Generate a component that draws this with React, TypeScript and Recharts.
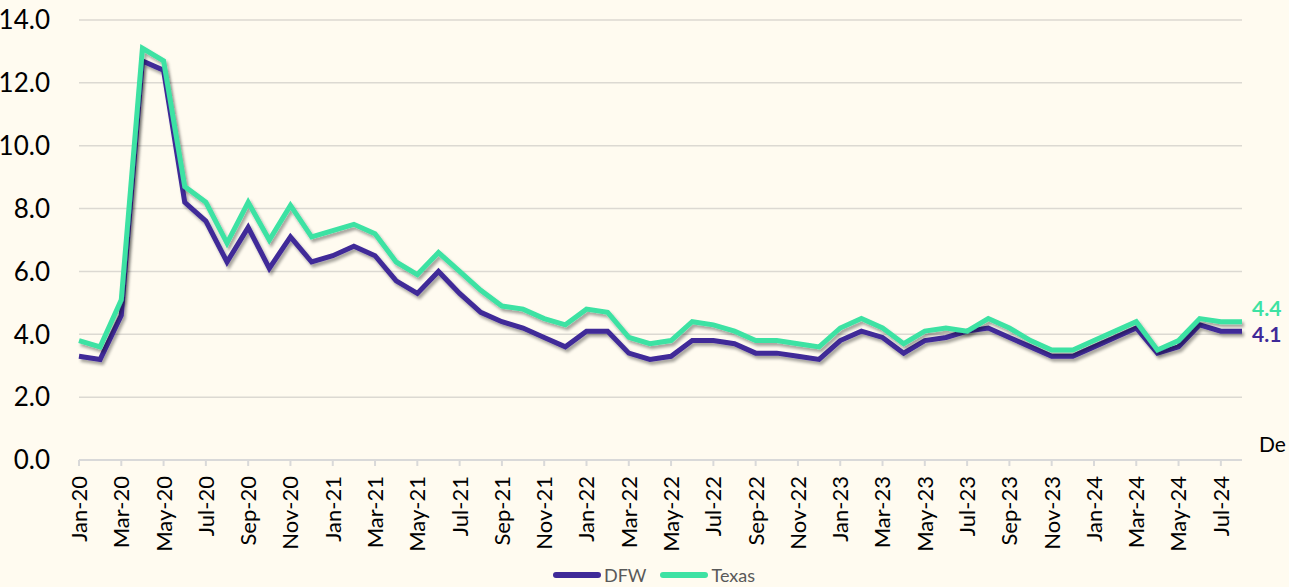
import React from "react";
import { LineChart, Line, XAxis, YAxis, CartesianGrid, Legend, LabelList } from "recharts";

const months = [
  "Jan-20", "Feb-20", "Mar-20", "Apr-20", "May-20", "Jun-20", "Jul-20", "Aug-20", "Sep-20", "Oct-20", "Nov-20", "Dec-20",
  "Jan-21", "Feb-21", "Mar-21", "Apr-21", "May-21", "Jun-21", "Jul-21", "Aug-21", "Sep-21", "Oct-21", "Nov-21", "Dec-21",
  "Jan-22", "Feb-22", "Mar-22", "Apr-22", "May-22", "Jun-22", "Jul-22", "Aug-22", "Sep-22", "Oct-22", "Nov-22", "Dec-22",
  "Jan-23", "Feb-23", "Mar-23", "Apr-23", "May-23", "Jun-23", "Jul-23", "Aug-23", "Sep-23", "Oct-23", "Nov-23", "Dec-23",
  "Jan-24", "Feb-24", "Mar-24", "Apr-24", "May-24", "Jun-24", "Jul-24", "Aug-24",
];

const dfw = [
  3.3, 3.2, 4.6, 12.7, 12.4, 8.2, 7.6, 6.3, 7.4, 6.1, 7.1, 6.3,
  6.5, 6.8, 6.5, 5.7, 5.3, 6.0, 5.3, 4.7, 4.4, 4.2, 3.9, 3.6,
  4.1, 4.1, 3.4, 3.2, 3.3, 3.8, 3.8, 3.7, 3.4, 3.4, 3.3, 3.2,
  3.8, 4.1, 3.9, 3.4, 3.8, 3.9, 4.1, 4.2, 3.9, 3.6, 3.3, 3.3,
  3.6, 3.9, 4.2, 3.4, 3.6, 4.3, 4.1, 4.1,
];

const texas = [
  3.8, 3.6, 5.1, 13.1, 12.7, 8.7, 8.2, 6.9, 8.2, 7.0, 8.1, 7.1,
  7.3, 7.5, 7.2, 6.3, 5.9, 6.6, 6.0, 5.4, 4.9, 4.8, 4.5, 4.3,
  4.8, 4.7, 3.9, 3.7, 3.8, 4.4, 4.3, 4.1, 3.8, 3.8, 3.7, 3.6,
  4.2, 4.5, 4.2, 3.7, 4.1, 4.2, 4.1, 4.5, 4.2, 3.8, 3.5, 3.5,
  3.8, 4.1, 4.4, 3.5, 3.8, 4.5, 4.4, 4.4,
];

const yTicks = [0, 2, 4, 6, 8, 10, 12, 14];

const data = months.map((m, i) => ({ month: m, DFW: dfw[i], Texas: texas[i] }));

const DFW_COLOR = "#3f2a98";
const TX_COLOR = "#3de2a3";
const BG = "#fffbf0";
const FONT = "Lato, 'Open Sans', sans-serif";
const last = months.length - 1;

const MonthTick = (props: any) => {
  const { x, y, payload } = props;
  return (
    <g transform={`translate(${x},${y})`}>
      <text x={0} y={0} dy="0.36em" textAnchor="end" transform="rotate(-90)" fontSize={22} fill="#000" fontFamily={FONT}>
        {payload.value}
      </text>
    </g>
  );
};

// only the last point gets a value label
const endLabel = (color: string, dy: number) => (props: any) => {
  const { x, y, index, value } = props;
  if (index !== last) return null;
  return (
    <text x={x + 10} y={y + dy} dominantBaseline="middle" fontSize={21} fontWeight={700} fill={color} fontFamily={FONT}>
      {Number(value).toFixed(1)}
    </text>
  );
};

const renderLegend = () => (
  <div
    style={{
      display: "flex",
      justifyContent: "center",
      alignItems: "center",
      height: 27,
      paddingTop: 2,
      paddingLeft: 66,
      boxSizing: "border-box",
      fontFamily: FONT,
      fontSize: 18,
      lineHeight: "20px",
      color: "#595959",
    }}
  >
    <span style={{ display: "inline-block", width: 48, height: 6, borderRadius: 3, background: DFW_COLOR, marginRight: 3 }} />
    <span style={{ marginRight: 14 }}>DFW</span>
    <span style={{ display: "inline-block", width: 48, height: 6, borderRadius: 3, background: TX_COLOR, marginRight: 3 }} />
    <span>Texas</span>
  </div>
);

export default function App() {
  return (
    <div style={{ position: "absolute", left: 0, top: 0, width: 1289, height: 587, overflow: "hidden", background: BG }}>
      <LineChart width={1289} height={587} data={data} margin={{ top: 20, right: 47, left: 0, bottom: 0 }}>
        <defs>
          <filter id="lineShadow" x="-5%" y="-5%" width="110%" height="110%">
            <feDropShadow dx="2" dy="3" stdDeviation="1.5" floodColor="#000" floodOpacity="0.35" />
          </filter>
        </defs>
        <CartesianGrid vertical={false} stroke="#dcd9d2" strokeWidth={1.5} />
        <XAxis
          dataKey="month"
          interval={1}
          height={100}
          tickSize={6}
          tickMargin={10}
          axisLine={{ stroke: "#d9d9d9", strokeWidth: 2 }}
          tickLine={{ stroke: "#d9d9d9", strokeWidth: 2 }}
          tick={<MonthTick />}
        />
        <YAxis
          width={79}
          domain={[0, 14]}
          ticks={yTicks}
          axisLine={false}
          tickLine={false}
          tickSize={0}
          tickMargin={29}
          tickFormatter={(v: number) => v.toFixed(1)}
          tick={{ fontSize: 26, fill: "#000", fontFamily: FONT }}
        />
        <Legend verticalAlign="bottom" height={27} content={renderLegend} />
        <Line
          type="linear"
          dataKey="DFW"
          stroke={DFW_COLOR}
          strokeWidth={5}
          dot={false}
          filter="url(#lineShadow)"
          isAnimationActive={false}
        >
          <LabelList dataKey="DFW" content={endLabel(DFW_COLOR, 5)} />
        </Line>
        <Line
          type="linear"
          dataKey="Texas"
          stroke={TX_COLOR}
          strokeWidth={5}
          dot={false}
          filter="url(#lineShadow)"
          isAnimationActive={false}
        >
          <LabelList dataKey="Texas" content={endLabel(TX_COLOR, -11)} />
        </Line>
      </LineChart>
      <div style={{ position: "absolute", left: 1259, top: 431, fontFamily: FONT, fontSize: 21, color: "#000", whiteSpace: "nowrap" }}>
        De
      </div>
    </div>
  );
}
